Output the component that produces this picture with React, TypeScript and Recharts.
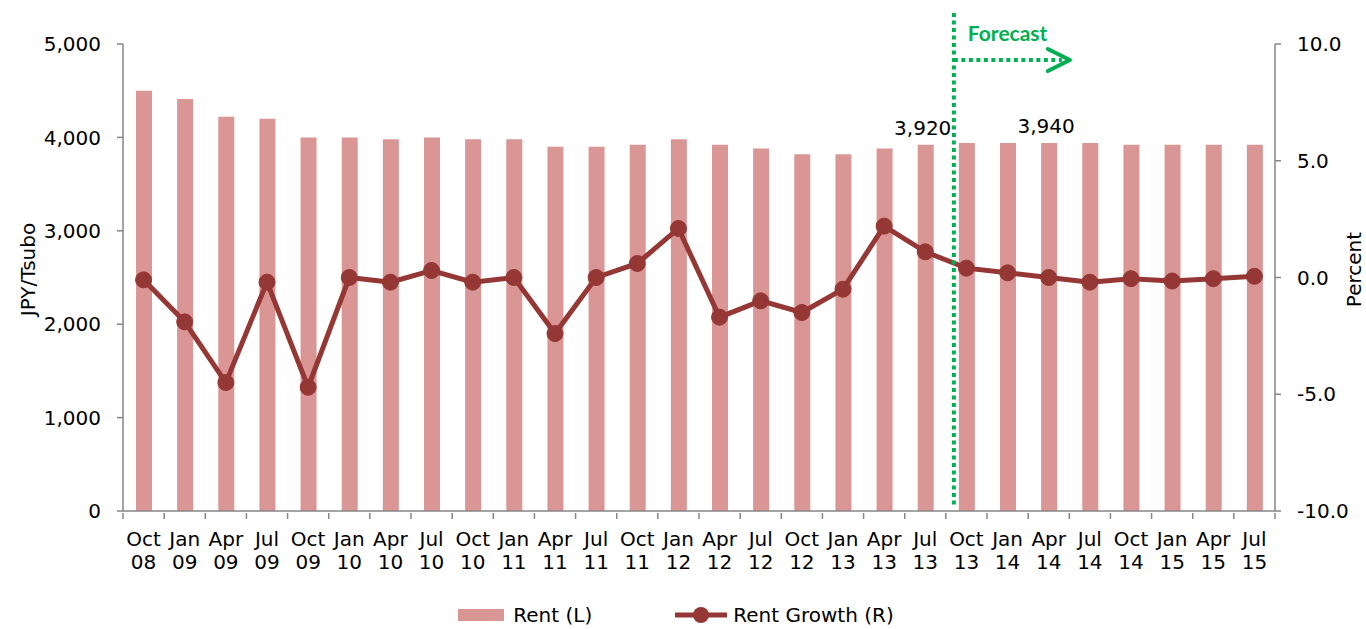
import { ComposedChart, Bar, Line, XAxis, YAxis, Legend, ReferenceLine, LabelList } from 'recharts';

const categories = [
  'Oct 08', 'Jan 09', 'Apr 09', 'Jul 09', 'Oct 09', 'Jan 10', 'Apr 10', 'Jul 10',
  'Oct 10', 'Jan 11', 'Apr 11', 'Jul 11', 'Oct 11', 'Jan 12', 'Apr 12', 'Jul 12',
  'Oct 12', 'Jan 13', 'Apr 13', 'Jul 13', 'Oct 13', 'Jan 14', 'Apr 14', 'Jul 14',
  'Oct 14', 'Jan 15', 'Apr 15', 'Jul 15',
];

// JPY per tsubo, left axis
const rent = [
  4500, 4410, 4220, 4200, 4000, 4000, 3980, 4000,
  3980, 3980, 3900, 3900, 3920, 3980, 3920, 3880,
  3820, 3820, 3880, 3920, 3940, 3940, 3940, 3940,
  3920, 3920, 3920, 3920,
];

// percent, right axis
const rentGrowth = [
  -0.1, -1.9, -4.5, -0.2, -4.7, 0.0, -0.2, 0.3,
  -0.2, 0.0, -2.4, 0.0, 0.6, 2.1, -1.7, -1.0,
  -1.5, -0.5, 2.2, 1.1, 0.4, 0.2, 0.0, -0.2,
  -0.05, -0.15, -0.05, 0.05,
];

const leftTicks = [0, 1000, 2000, 3000, 4000, 5000];
const rightTicks = [-10, -5, 0, 5, 10];
const labelledPoints = ['Jul 13', 'Apr 14'];
const forecastStart = 'Oct 13';

const data = categories.map((name, i) => ({ name, rent: rent[i], growth: rentGrowth[i] }));

const AXIS = '#868686';
const BAR = '#D99694';
const LINE = '#953735';
const GREEN = '#00B050';
const FONT = '"DejaVu Sans", "Liberation Sans", Arial, sans-serif';

function QuarterTick(props: any) {
  const { x, y, payload, index } = props;
  const half = payload?.offset || 20.57;
  const [month, year] = String(payload.value).split(' ');
  const last = index === categories.length - 1;
  return (
    <g>
      <line x1={x - half} x2={x - half} y1={y - 6} y2={y} stroke={AXIS} strokeWidth={1.5} />
      {last && <line x1={x + half} x2={x + half} y1={y - 6} y2={y} stroke={AXIS} strokeWidth={1.5} />}
      <text x={x} y={y + 27} textAnchor="middle" fontSize={20} fontFamily={FONT} fill="#000">
        {month}
      </text>
      <text x={x} y={y + 50} textAnchor="middle" fontSize={20} fontFamily={FONT} fill="#000">
        {year}
      </text>
    </g>
  );
}

function AxisTitle({ viewBox, value, dx }: any) {
  const cx = viewBox.x + dx;
  const cy = viewBox.y + viewBox.height / 2 - 8;
  return (
    <text
      x={cx}
      y={cy}
      transform={`rotate(-90 ${cx} ${cy})`}
      textAnchor="middle"
      dominantBaseline="central"
      fontSize={20}
      fontFamily={FONT}
      fill="#000"
    >
      {value}
    </text>
  );
}

function RentLabel(props: any) {
  const { x, y, width, value, index } = props;
  if (!labelledPoints.includes(categories[index])) return null;
  return (
    <text x={x + width / 2 - 3} y={y - 10} textAnchor="middle" fontSize={20} fontFamily={FONT} fill="#000">
      {Number(value).toLocaleString('en-US')}
    </text>
  );
}

function ForecastMarker(p: any) {
  const x = p.x1 + 8;
  const top = Math.min(p.y1, p.y2);
  const bottom = Math.max(p.y1, p.y2);
  const dash = { stroke: GREEN, strokeWidth: 4, strokeDasharray: '4 3.5' };
  return (
    <g>
      <line x1={x} x2={x} y1={top - 31} y2={bottom - 4} {...dash} />
      <line x1={x} x2={x + 108} y1={top + 16} y2={top + 16} {...dash} />
      <polyline
        points={`${x + 94},${top + 5} ${x + 116},${top + 16} ${x + 94},${top + 27}`}
        fill="none"
        stroke={GREEN}
        strokeWidth={4}
        strokeLinecap="round"
        strokeLinejoin="round"
      />
      <text x={x + 14} y={top - 3} fill={GREEN} fontSize={21} fontWeight={700} fontFamily="Lato, 'Open Sans', sans-serif">
        Forecast
      </text>
    </g>
  );
}

function LegendContent() {
  return (
    <div
      style={{
        display: 'flex',
        justifyContent: 'center',
        alignItems: 'center',
        height: 26,
        paddingRight: 14,
        fontFamily: FONT,
        fontSize: 20,
        color: '#000',
      }}
    >
      <span style={{ display: 'inline-block', width: 46, height: 12, background: BAR, marginRight: 9 }} />
      <span style={{ marginRight: 83 }}>Rent (L)</span>
      <svg width={52} height={20} style={{ marginRight: 6 }}>
        <line x1={0} x2={52} y1={10} y2={10} stroke={LINE} strokeWidth={5} strokeLinecap="round" />
        <circle cx={26} cy={10} r={8} fill={LINE} />
      </svg>
      <span>Rent Growth (R)</span>
    </div>
  );
}

export default function App() {
  return (
    <>
      <style>{'body{margin:0}'}</style>
      <ComposedChart
        width={1366}
        height={629}
        data={data}
        margin={{ top: 44, right: 0, bottom: 1, left: 0 }}
      >
        <XAxis
          dataKey="name"
          interval={0}
          height={91}
          axisLine={{ stroke: AXIS, strokeWidth: 1.5 }}
          tickLine={false}
          tickSize={6}
          tick={<QuarterTick />}
        />
        <YAxis
          yAxisId="left"
          width={123}
          domain={[0, 5000]}
          ticks={leftTicks}
          tickFormatter={(v: number) => v.toLocaleString('en-US')}
          axisLine={{ stroke: AXIS, strokeWidth: 1.5 }}
          tickLine={{ stroke: AXIS, strokeWidth: 1.5 }}
          tickSize={6}
          tickMargin={16}
          tick={{ fill: '#000', fontSize: 20, fontFamily: FONT }}
          label={<AxisTitle value="JPY/Tsubo" dx={28} />}
        />
        <YAxis
          yAxisId="right"
          orientation="right"
          width={91}
          domain={[-10, 10]}
          ticks={rightTicks}
          tickFormatter={(v: number) => v.toFixed(1)}
          axisLine={{ stroke: AXIS, strokeWidth: 1.5 }}
          tickLine={{ stroke: AXIS, strokeWidth: 1.5 }}
          tickSize={6}
          tickMargin={16}
          tick={{ fill: '#000', fontSize: 20, fontFamily: FONT }}
          label={<AxisTitle value="Percent" dx={79} />}
        />
        <Bar yAxisId="left" dataKey="rent" name="Rent (L)" fill={BAR} barSize={16} isAnimationActive={false}>
          <LabelList dataKey="rent" content={<RentLabel />} />
        </Bar>
        <Line
          yAxisId="right"
          dataKey="growth"
          name="Rent Growth (R)"
          stroke={LINE}
          strokeWidth={5}
          dot={{ r: 8, fill: LINE, stroke: LINE, strokeWidth: 1 }}
          activeDot={false}
          isAnimationActive={false}
        />
        <ReferenceLine
          yAxisId="left"
          x={forecastStart}
          position="start"
          shape={ForecastMarker}
        />
        <Legend verticalAlign="bottom" content={<LegendContent />} />
      </ComposedChart>
    </>
  );
}
